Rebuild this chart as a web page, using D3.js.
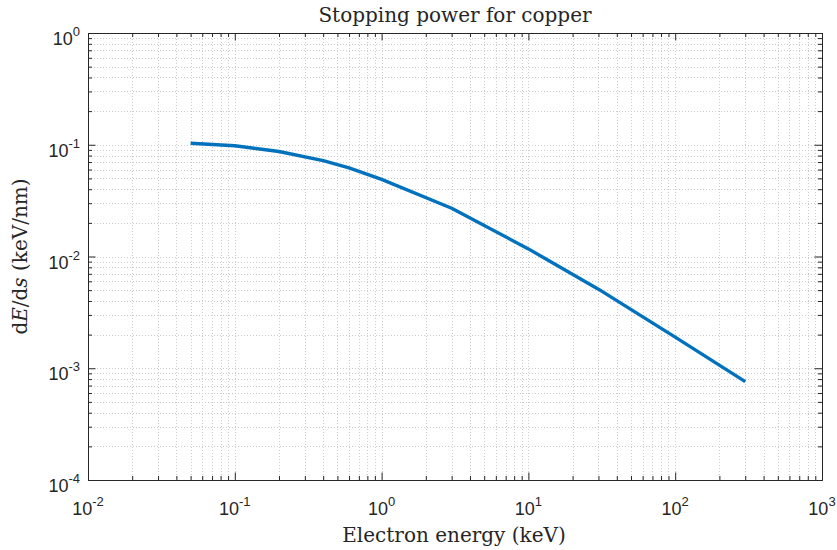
<!DOCTYPE html>
<html>
<head>
<meta charset="utf-8">
<script src="https://cdn.jsdelivr.net/npm/d3@7"></script>
<style>
  body { margin: 0; background: #fff; }
  .tick-label { font-family: "Liberation Sans", Arial, sans-serif; font-size: 18px; fill: #262626; }
  .serif { font-family: "DejaVu Serif", "Liberation Serif", serif; fill: #262626; }
</style>
</head>
<body>
<script>
// electron energy (keV) and stopping power dE/ds (keV/nm)
var energy = [0.05, 0.1, 0.2, 0.4, 0.6, 1, 3, 10, 30, 100, 300];
var stopping = [0.103, 0.098, 0.087, 0.072, 0.062, 0.049, 0.027, 0.0117, 0.0051, 0.0019, 0.00076];

var xTickExp = [-2, -1, 0, 1, 2, 3];
var yTickExp = [-4, -3, -2, -1, 0];

var width = 837;
var height = 550;
// plot box edges (note: "top" is reserved on window)
var padLeft = 88, padRight = 822, padTop = 33, padBottom = 480;

var svg = d3.select("body")
            .append("svg")
            .attr("width", width)
            .attr("height", height);

var xScale = d3.scaleLog()
               .domain([1e-2, 1e3])
               .range([padLeft, padRight]);

var yScale = d3.scaleLog()
             .domain([1e-4, 1e0])
             .range([padBottom, padTop]);

// minor values for the grid and ticks
function minorValues(lo, hi) {
  var vals = [];
  for (var e = lo; e < hi; e++) {
    for (var m = 2; m <= 9; m++) vals.push(m * Math.pow(10, e));
  }
  return vals;
}
var xMinor = minorValues(-2, 3);
var yMinor = minorValues(-4, 0);
var xMajor = xTickExp.map(function(e) { return Math.pow(10, e); });
var yMajor = yTickExp.map(function(e) { return Math.pow(10, e); });

// grid (dotted)
var grid = svg.append("g")
              .attr("stroke", "#cccccc")
              .attr("stroke-width", 1)
              .attr("stroke-dasharray", "1,2");

grid.selectAll(".gx")
    .data(xMinor.concat(xMajor.slice(1, -1)))
    .enter()
    .append("line")
    .attr("x1", function(d) { return Math.round(xScale(d)) + 0.5; })
    .attr("x2", function(d) { return Math.round(xScale(d)) + 0.5; })
    .attr("y1", padTop)
    .attr("y2", padBottom);

grid.selectAll(".gy")
    .data(yMinor.concat(yMajor.slice(1, -1)))
    .enter()
    .append("line")
    .attr("y1", function(d) { return Math.round(yScale(d)) + 0.5; })
    .attr("y2", function(d) { return Math.round(yScale(d)) + 0.5; })
    .attr("x1", padLeft)
    .attr("x2", padRight);

// the curve
var line = d3.line()
             .x(function(d, i) { return xScale(energy[i]); })
             .y(function(d) { return yScale(d); });

svg.append("path")
   .datum(stopping)
   .attr("fill", "none")
   .attr("stroke", "#0072BD")
   .attr("stroke-width", 3.4)
   .attr("stroke-linejoin", "round")
   .attr("d", line);

// axes, ticks pointing inwards on all four sides
var axisColor = "#262626";
var majorLen = 7.5, minorLen = 4;

function sideAxis(axisFn, scale, pos, transform) {
  svg.append("g")
     .attr("transform", transform)
     .call(axisFn(scale).tickValues(pos.major).tickSize(majorLen).tickFormat(""))
     .call(function(g) {
       g.select(".domain").attr("stroke", axisColor);
       g.selectAll(".tick line").attr("stroke", axisColor);
     });
  svg.append("g")
     .attr("transform", transform)
     .call(axisFn(scale).tickValues(pos.minor).tickSize(minorLen).tickFormat(""))
     .call(function(g) {
       g.select(".domain").remove();
       g.selectAll(".tick line").attr("stroke", axisColor);
     });
}

var xPos = { major: xMajor, minor: xMinor };
var yPos = { major: yMajor, minor: yMinor };

sideAxis(d3.axisTop, xScale, xPos, "translate(0," + padBottom + ")");
sideAxis(d3.axisBottom, xScale, xPos, "translate(0," + padTop + ")");
sideAxis(d3.axisRight, yScale, yPos, "translate(" + padLeft + ",0)");
sideAxis(d3.axisLeft, yScale, yPos, "translate(" + padRight + ",0)");

// tick labels 10^n
svg.selectAll(".xlab")
   .data(xTickExp)
   .enter()
   .append("text")
   .attr("class", "tick-label")
   .attr("x", function(d) { return xScale(Math.pow(10, d)); })
   .attr("y", 515)
   .attr("text-anchor", "middle")
   .each(function(d) {
     var t = d3.select(this);
     t.append("tspan").text("10");
     t.append("tspan").attr("dy", -9).style("font-size", "13px").text(d);
   });

svg.selectAll(".ylab")
   .data(yTickExp)
   .enter()
   .append("text")
   .attr("class", "tick-label")
   .attr("x", 80)
   .attr("y", function(d) { return yScale(Math.pow(10, d)) + 12; })
   .attr("text-anchor", "end")
   .each(function(d) {
     var t = d3.select(this);
     t.append("tspan").text("10");
     t.append("tspan").attr("dy", -9).style("font-size", "13px").text(d);
   });

// title and axis labels
svg.append("text")
   .attr("class", "serif")
   .attr("x", (padLeft + padRight) / 2)
   .attr("y", 22)
   .attr("text-anchor", "middle")
   .style("font-size", "20px")
   .text("Stopping power for copper");

svg.append("text")
   .attr("class", "serif")
   .attr("x", (padLeft + padRight) / 2 - 1)
   .attr("y", 542)
   .attr("text-anchor", "middle")
   .style("font-size", "20px")
   .text("Electron energy (keV)");

var yl = svg.append("text")
            .attr("class", "serif")
            .attr("transform", "translate(27," + ((padTop + padBottom) / 2) + ") rotate(-90)")
            .attr("text-anchor", "middle")
            .style("font-size", "20px");
yl.append("tspan").text("d");
yl.append("tspan").style("font-style", "italic").text("E");
yl.append("tspan").text("/d");
yl.append("tspan").style("font-style", "italic").text("s");
yl.append("tspan").text(" (keV/nm)");
</script>
</body>
</html>
